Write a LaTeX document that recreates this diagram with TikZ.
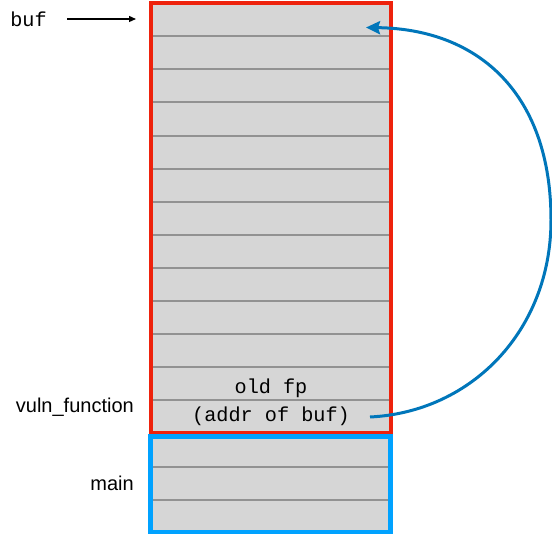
\documentclass[tikz,border=0pt]{standalone}
\usepackage{fontspec}
\usetikzlibrary{arrows.meta}
\newfontfamily\monofam{Liberation Mono}
\newfontfamily\sansfam{Liberation Sans}
\definecolor{frameRed}{HTML}{EE220C}
\definecolor{frameBlue}{HTML}{00A2FF}
\definecolor{arrowBlue}{HTML}{0076BA}
\definecolor{slotFill}{HTML}{D6D6D6}
\definecolor{slotLine}{HTML}{929292}
\tikzset{
  monotext/.style={inner sep=0pt, font=\monofam\fontsize{20.2}{22}\selectfont},
  sanstext/.style={inner sep=0pt, font=\sansfam\fontsize{20}{22}\selectfont},
  slotline/.style={draw=slotLine, line width=2pt},
  redframe/.style={draw=frameRed, line width=4pt},
  blueframe/.style={draw=frameBlue, line width=4.5pt},
  ptr/.style={draw=black, line width=1.3pt, -{Triangle[length=7pt,width=6pt]}},
  backptr/.style={draw=arrowBlue, line width=3pt, -{Stealth[length=14pt,width=13pt,inset=2pt]}}
}
\begin{document}
\begin{tikzpicture}[x=1pt,y=-1pt]
\useasboundingbox (0,0) rectangle (552,535);
% red frame (vuln_function)
\fill[slotFill] (151,3.5) rectangle (391,432.5);
\foreach \k in {1,...,12} {
  \draw[slotline] (153,{3.5+33*\k}) -- (389,{3.5+33*\k});
}
\draw[redframe] (151,3.5) rectangle (391,432.5);
% blue frame (main)
\fill[slotFill] (150.5,436.5) rectangle (390.5,532);
\draw[slotline] (153,467) -- (388,467);
\draw[slotline] (153,500) -- (388,500);
\draw[blueframe] (150.5,436.5) rectangle (390.5,532);
% labels
\node[monotext, anchor=base] (buflbl) at (28.5,27) {buf};
\node[monotext, anchor=base] (oldfp) at (271,393) {old fp};
\node[monotext, anchor=base] (addr) at (271,421) {(addr of buf)};
\node[sanstext, anchor=base east] (vuln) at (134,412) {vuln\_function};
\node[sanstext, anchor=base east] (mainlbl) at (134,490) {main};
% arrows
\coordinate (bufarrowstart) at (67,19);
\coordinate (bufarrowtip) at (136,19);
\draw[ptr] (bufarrowstart) -- (bufarrowtip);
\coordinate (backstart) at (370,417);
\coordinate (backend) at (366,27.5);
\draw[backptr] (backstart) .. controls (472,412) and (551,330) .. (551,220)
  .. controls (551,95) and (480,29) .. (backend);
\end{tikzpicture}
\end{document}
